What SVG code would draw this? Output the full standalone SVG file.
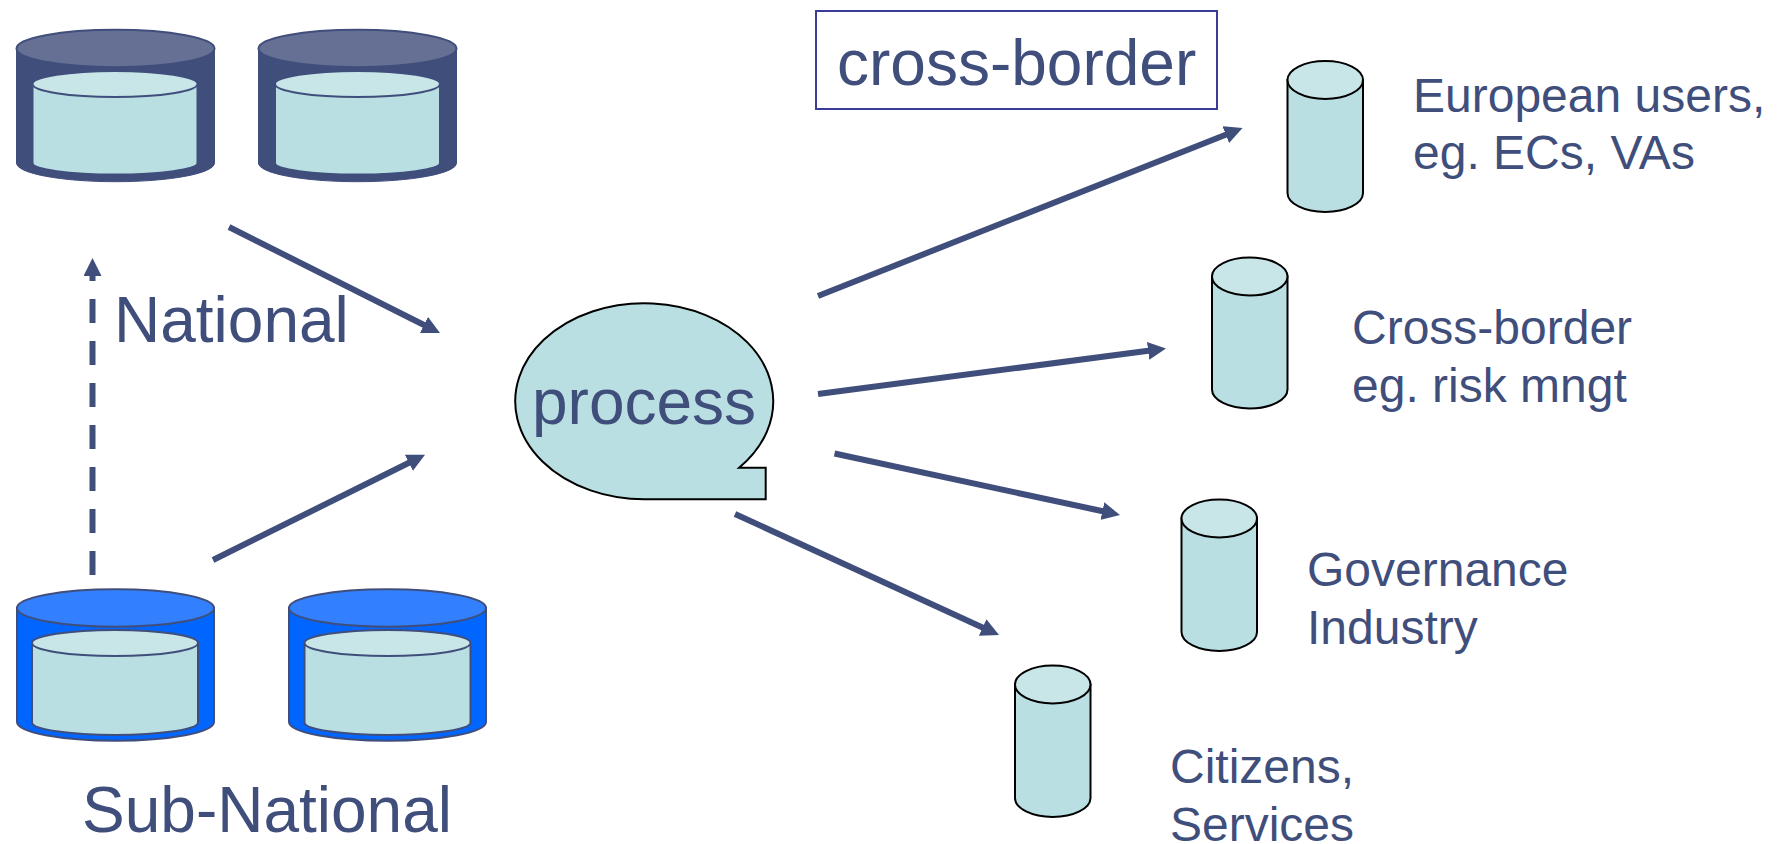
<svg xmlns="http://www.w3.org/2000/svg" width="1778" height="844" viewBox="0 0 1778 844">
<style>
text{font-family:"Liberation Sans",Arial,sans-serif;fill:#404e7c}
.big{font-size:64px}
.sm{font-size:48px}
.conn{stroke:#404e7c;stroke-width:6;fill:none}
.inner{fill:#b9dfe2;stroke:#404e7c;stroke-width:2}
.innertop{fill:#c8e5e8;stroke:#404e7c;stroke-width:2}
.nat{fill:#404e7c;stroke:#404e7c;stroke-width:1}
.nattop{fill:#666f94;stroke:#404e7c;stroke-width:2}
.sub{fill:#0066ff;stroke:#404e7c;stroke-width:2}
.subtop{fill:#3380ff;stroke:#404e7c;stroke-width:2}
.body{fill:#b9dfe2;stroke:#000;stroke-width:2}
.top{fill:#c8e5e8;stroke:#000;stroke-width:2}
</style>
<defs>
<marker id="ah" markerUnits="userSpaceOnUse" markerWidth="18" markerHeight="18" refX="4" refY="9" orient="auto" viewBox="0 0 18 18"><path d="M0 0L18 9L0 18Z" fill="#404e7c"/></marker>
</defs>
<g id="connectors">
<path class="conn" d="M229 227L427.500 326.700" marker-end="url(#ah)"/>
<path class="conn" d="M213 560L412.500 461" marker-end="url(#ah)"/>
<path class="conn" d="M92.500 575V272" stroke-dasharray="24 18" marker-end="url(#ah)"/>
<path class="conn" d="M818 296L1229.500 133.200" marker-end="url(#ah)"/>
<path class="conn" d="M818 394L1152.100 350.300" marker-end="url(#ah)"/>
<path class="conn" d="M834.500 453.500L1106.300 512" marker-end="url(#ah)"/>
<path class="conn" d="M735 514L986.300 629.200" marker-end="url(#ah)"/>
</g>
<g id="nat1">
<path class="nat" d="M16.500 48.500V163A99 18.700 0 0 0 214.500 163V48.500Z"/>
<ellipse class="nattop" cx="115.500" cy="48.500" rx="99" ry="18.700"/>
<path class="inner" d="M32.500 84V163A82.500 11.500 0 0 0 197.500 163V84Z"/>
<ellipse class="innertop" cx="115" cy="84" rx="82.500" ry="13"/>
</g>
<g id="nat2">
<path class="nat" d="M258.500 48.500V163A99 18.700 0 0 0 456.500 163V48.500Z"/>
<ellipse class="nattop" cx="357.500" cy="48.500" rx="99" ry="18.700"/>
<path class="inner" d="M275 84V163A82.500 11.500 0 0 0 440 163V84Z"/>
<ellipse class="innertop" cx="357.500" cy="84" rx="82.500" ry="13"/>
</g>
<text class="big" x="114" y="342">National</text>
<g id="sub1">
<path class="sub" d="M17 608V722A98.500 18.700 0 0 0 214 722V608Z"/>
<ellipse class="subtop" cx="115.500" cy="608" rx="98.500" ry="18.700"/>
<path class="inner" d="M32 643V722.500A83 12.500 0 0 0 198 722.500V643Z"/>
<ellipse class="innertop" cx="115" cy="643" rx="83" ry="13"/>
</g>
<g id="sub2">
<path class="sub" d="M289 608V722A98.500 18.700 0 0 0 486 722V608Z"/>
<ellipse class="subtop" cx="387.500" cy="608" rx="98.500" ry="18.700"/>
<path class="inner" d="M304.500 643V722.500A83 12.500 0 0 0 470.500 722.500V643Z"/>
<ellipse class="innertop" cx="387.500" cy="643" rx="83" ry="13"/>
</g>
<text class="big" x="82" y="832">Sub-National</text>
<g id="process">
<path d="M644.300 499.300A129 98 0 1 1 739.100 467.700H765.700V499.300Z" fill="#b9dfe2" stroke="#000" stroke-width="2"/>
<text class="big" x="532" y="424">process</text>
</g>
<g id="crossborder">
<rect x="816" y="11" width="401" height="98" fill="#fff" stroke="#3c3c96" stroke-width="2"/>
<text class="big" x="837" y="85">cross-border</text>
</g>
<g id="c1">
<path class="body" d="M1287.500 80V193A37.750 19 0 0 0 1363 193V80Z"/>
<ellipse class="top" cx="1325.250" cy="80" rx="37.750" ry="19"/>
</g>
<text class="sm" x="1413" y="111.500">European users,</text>
<text class="sm" x="1413" y="169">eg. ECs, VAs</text>
<g id="c2">
<path class="body" d="M1212 276.500V389.500A37.750 19 0 0 0 1287.500 389.500V276.500Z"/>
<ellipse class="top" cx="1249.750" cy="276.500" rx="37.750" ry="19"/>
</g>
<text class="sm" x="1352" y="344">Cross-border</text>
<text class="sm" x="1352" y="402">eg. risk mngt</text>
<g id="c3">
<path class="body" d="M1181.500 518.500V632A37.750 19 0 0 0 1257 632V518.500Z"/>
<ellipse class="top" cx="1219.250" cy="518.500" rx="37.750" ry="19"/>
</g>
<text class="sm" x="1307" y="586">Governance</text>
<text class="sm" x="1307" y="644">Industry</text>
<g id="c4">
<path class="body" d="M1015 684.500V798A37.750 19 0 0 0 1090.500 798V684.500Z"/>
<ellipse class="top" cx="1052.750" cy="684.500" rx="37.750" ry="19"/>
</g>
<text class="sm" x="1170" y="783">Citizens,</text>
<text class="sm" x="1170" y="841">Services</text>
</svg>
